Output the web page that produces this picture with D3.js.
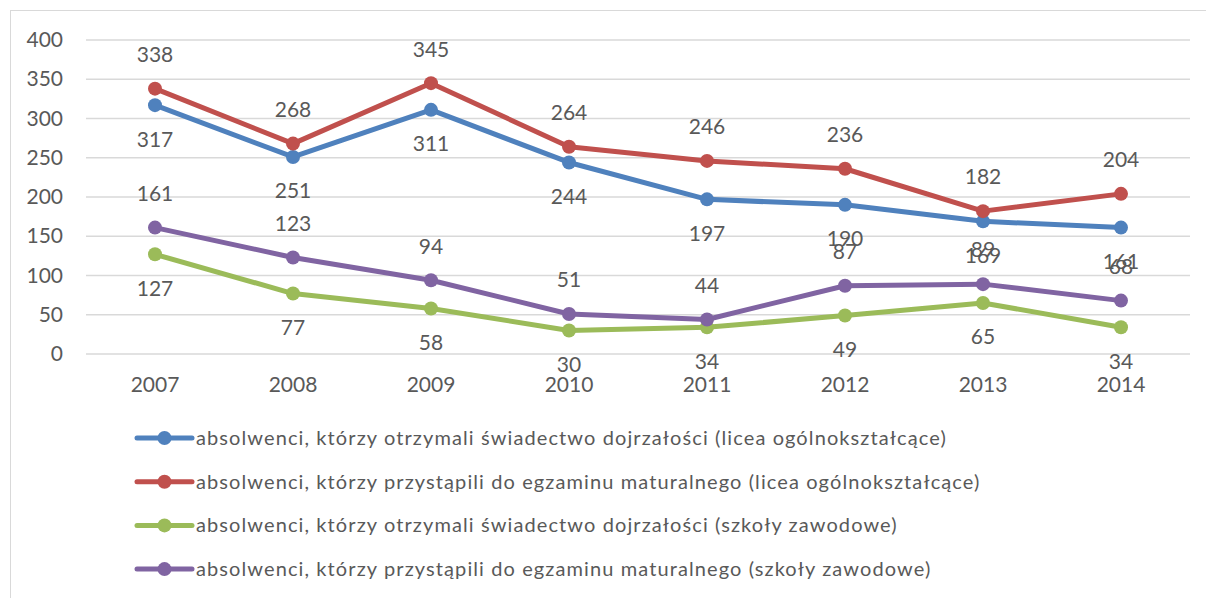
<!DOCTYPE html>
<html>
<head>
<meta charset="utf-8">
<script src="https://cdn.jsdelivr.net/npm/d3@7"></script>
<style>
  body { margin: 0; background: #fff; }
  svg text { font-family: Lato, "Open Sans", sans-serif; fill: #595959; }
</style>
</head>
<body>
<div id="chart"></div>
<script>
const years = ["2007", "2008", "2009", "2010", "2011", "2012", "2013", "2014"];
const yTicks = [0, 50, 100, 150, 200, 250, 300, 350, 400];

const seriesNames = [
    "absolwenci, którzy otrzymali świadectwo dojrzałości (licea ogólnokształcące)",
    "absolwenci, którzy przystąpili do egzaminu maturalnego (licea ogólnokształcące)",
    "absolwenci, którzy otrzymali świadectwo dojrzałości (szkoły zawodowe)",
    "absolwenci, którzy przystąpili do egzaminu maturalnego (szkoły zawodowe)"
];
const liceaSwiadectwo = [317, 251, 311, 244, 197, 190, 169, 161];
const liceaEgzamin = [338, 268, 345, 264, 246, 236, 182, 204];
const zawodoweSwiadectwo = [127, 77, 58, 30, 34, 49, 65, 34];
const zawodoweEgzamin = [161, 123, 94, 51, 44, 87, 89, 68];

const colors = ["#4F81BD", "#C0504D", "#9BBB59", "#8064A2"];
// label placement per series: -1 above point, 1 below
const labelSide = [1, -1, 1, -1];

let series = [liceaSwiadectwo, liceaEgzamin, zawodoweSwiadectwo, zawodoweEgzamin].map(function(vals, i) {
    return {name: seriesNames[i], color: colors[i], side: labelSide[i], values: vals};
});

const width = 1206, height = 598;
const plot = {left: 86, right: 1190, top: 40, bottom: 354};

let svg = d3.select("#chart").append("svg")
    .attr("width", width)
    .attr("height", height);

// outer chart frame
svg.append("rect")
    .attr("x", 10.5).attr("y", 10.5)
    .attr("width", width).attr("height", height)
    .attr("fill", "none")
    .attr("stroke", "#D9D9D9")
    .attr("stroke-width", 1);

let x = d3.scaleBand().domain(years).range([plot.left, plot.right]);
let y = d3.scaleLinear().domain([0, 400]).range([plot.bottom, plot.top]);

// gridlines
svg.append("g")
    .selectAll("line")
    .data(yTicks)
    .enter().append("line")
    .attr("x1", plot.left).attr("x2", plot.right)
    .attr("y1", d => y(d)).attr("y2", d => y(d))
    .attr("stroke", "#D9D9D9")
    .attr("stroke-width", 1.5);

// y axis labels
let yAxis = svg.append("g")
    .attr("transform", "translate(" + (plot.left - 23) + ",0)")
    .call(d3.axisLeft(y).tickValues(yTicks).tickSize(0).tickPadding(0));
yAxis.select(".domain").remove();
yAxis.selectAll("text")
    .style("font-size", "21px")
    .attr("fill", "#595959");

// x axis labels
let xAxis = svg.append("g")
    .attr("transform", "translate(0," + (plot.bottom + 31) + ")")
    .call(d3.axisBottom(x).tickSize(0).tickPadding(0));
xAxis.select(".domain").remove();
xAxis.selectAll("text")
    .style("font-size", "21px")
    .attr("dy", "0.35em")
    .attr("fill", "#595959");

let line = d3.line()
    .x((d, i) => x(years[i]) + x.bandwidth() / 2)
    .y(d => y(d));

let groups = svg.selectAll(".series")
    .data(series)
    .enter().append("g")
    .attr("class", "series");

groups.append("path")
    .attr("d", d => line(d.values))
    .attr("fill", "none")
    .attr("stroke", d => d.color)
    .attr("stroke-width", 5)
    .attr("stroke-linejoin", "round");

groups.selectAll("circle")
    .data(d => d.values.map((v, i) => ({v: v, i: i, color: d.color})))
    .enter().append("circle")
    .attr("cx", d => x(years[d.i]) + x.bandwidth() / 2)
    .attr("cy", d => y(d.v))
    .attr("r", 7)
    .attr("fill", d => d.color);

groups.selectAll(".label")
    .data(d => d.values.map((v, i) => ({v: v, i: i, side: d.side})))
    .enter().append("text")
    .attr("class", "label")
    .attr("x", d => x(years[d.i]) + x.bandwidth() / 2)
    .attr("y", d => y(d.v) + d.side * 34)
    .attr("dy", "0.35em")
    .attr("text-anchor", "middle")
    .style("font-size", "21px")
    .text(d => d.v);

// legend
let legend = svg.selectAll(".legend")
    .data(series)
    .enter().append("g")
    .attr("class", "legend")
    .attr("transform", (d, i) => "translate(137," + (438 + i * 43.7) + ")");

legend.append("line")
    .attr("x1", 0).attr("x2", 55)
    .attr("stroke", d => d.color)
    .attr("stroke-width", 5)
    .attr("stroke-linecap", "round");

legend.append("circle")
    .attr("cx", 27.5)
    .attr("r", 7)
    .attr("fill", d => d.color);

legend.append("text")
    .attr("x", 59)
    .attr("dy", "0.35em")
    .style("font-size", "20px")
    .style("letter-spacing", "1.1px")
    .text(d => d.name);
</script>
</body>
</html>
